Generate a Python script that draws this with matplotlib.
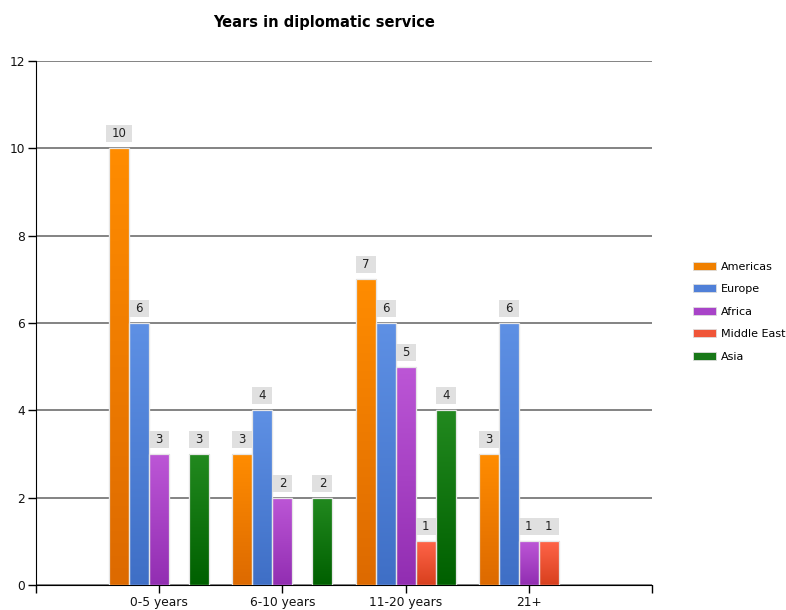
import numpy as np
import matplotlib
matplotlib.use("Agg")
import matplotlib.pyplot as plt
from matplotlib.patches import Patch, Rectangle
from matplotlib.colors import LinearSegmentedColormap

categories = ["0-5 years", "6-10 years", "11-20 years", "21+"]
series = ["Americas", "Europe", "Africa", "Middle East", "Asia"]
americas = [10, 3, 7, 3]
europe = [6, 4, 6, 6]
africa = [3, 2, 5, 1]
middle_east = [0, 0, 1, 1]
asia = [3, 2, 4, 0]
values = [americas, europe, africa, middle_east, asia]

top_colors = ["#FF8C00", "#5E90E4", "#BC56D6", "#FF6448", "#22891F"]
bot_colors = ["#DD6A00", "#3F6FC6", "#922EB2", "#D8401E", "#006000"]
legend_colors = ["#F08000", "#5080D8", "#A844C8", "#F05538", "#187818"]

plt.rcParams['font.family'] = ['DejaVu Sans']

fig = plt.figure(figsize=(7.86, 6.10), dpi=100)
ax = fig.add_axes([36/786, 1-585/610, (652-36)/786, (585-61)/610])

x = np.arange(1, len(categories) + 1)
bw = 20/123

for si, (name, vals) in enumerate(zip(series, values)):
    offs = (si - 2) * bw
    bars = ax.bar(x + offs, vals, width=bw, color=top_colors[si],
                  edgecolor="#E8E8E8", linewidth=0.8, zorder=3)
    cmap = LinearSegmentedColormap.from_list("g", [bot_colors[si], top_colors[si]])
    for b, v in zip(bars, vals):
        if v <= 0:
            continue
        x0 = b.get_x(); w = b.get_width(); h = b.get_height()
        im = ax.imshow(np.linspace(0, 1, 64).reshape(-1, 1), cmap=cmap,
                       extent=[x0, x0 + w, 0, h], origin='lower',
                       aspect='auto', zorder=3.5, interpolation='bilinear')
        im.set_clip_path(b)
        edge = Rectangle((x0, 0), w, h, fill=False, ec="#E6E6E6", lw=0.9, zorder=4)
        ax.add_patch(edge)
        s = str(v)
        lw_ = w if len(s) == 1 else w * 1.3
        gap = 6 * 12 / 524
        hh = 17 * 12 / 524
        cx = x0 + w / 2
        ax.add_patch(Rectangle((cx - lw_/2, h + gap), lw_, hh, fc="#E0E0E0",
                               ec="none", zorder=5))
        ax.text(cx, h + gap + hh/2, s, ha='center', va='center',
                fontsize=8.5, color="#222222", zorder=6)

ax.set_xlim(0, 5)
ax.set_ylim(0, 12)
ax.set_yticks(np.arange(0, 13, 2))
ax.set_xticks([0, 1, 2, 3, 4, 5])
ax.set_xticklabels([""] + categories + [""])
ax.tick_params(axis='both', direction='out', length=6, width=1, labelsize=8.8,
               color='black', labelcolor='#111111', pad=2)
ax.yaxis.grid(True, color='#6E6E6E', linewidth=1.2, zorder=1)
ax.set_axisbelow(True)
for sp in ['top', 'right']:
    ax.spines[sp].set_visible(False)
ax.spines['left'].set_color('black')
ax.spines['bottom'].set_color('black')

fig.text(324/786, 1-23/610, "Years in diplomatic service", ha='center', va='center',
         fontsize=10.5, fontweight='bold', color='black')

handles = [Patch(facecolor=c, edgecolor='#DDDDDD', linewidth=0.6) for c in legend_colors]
fig.legend(handles, series, loc='upper left', bbox_to_anchor=(693/786, 1-261.5/610),
           frameon=False, fontsize=8, handlelength=2.1, handleheight=0.7,
           handletextpad=0.45, labelspacing=1.13, borderpad=0, borderaxespad=0)

fig.savefig("out.png", dpi=100)
